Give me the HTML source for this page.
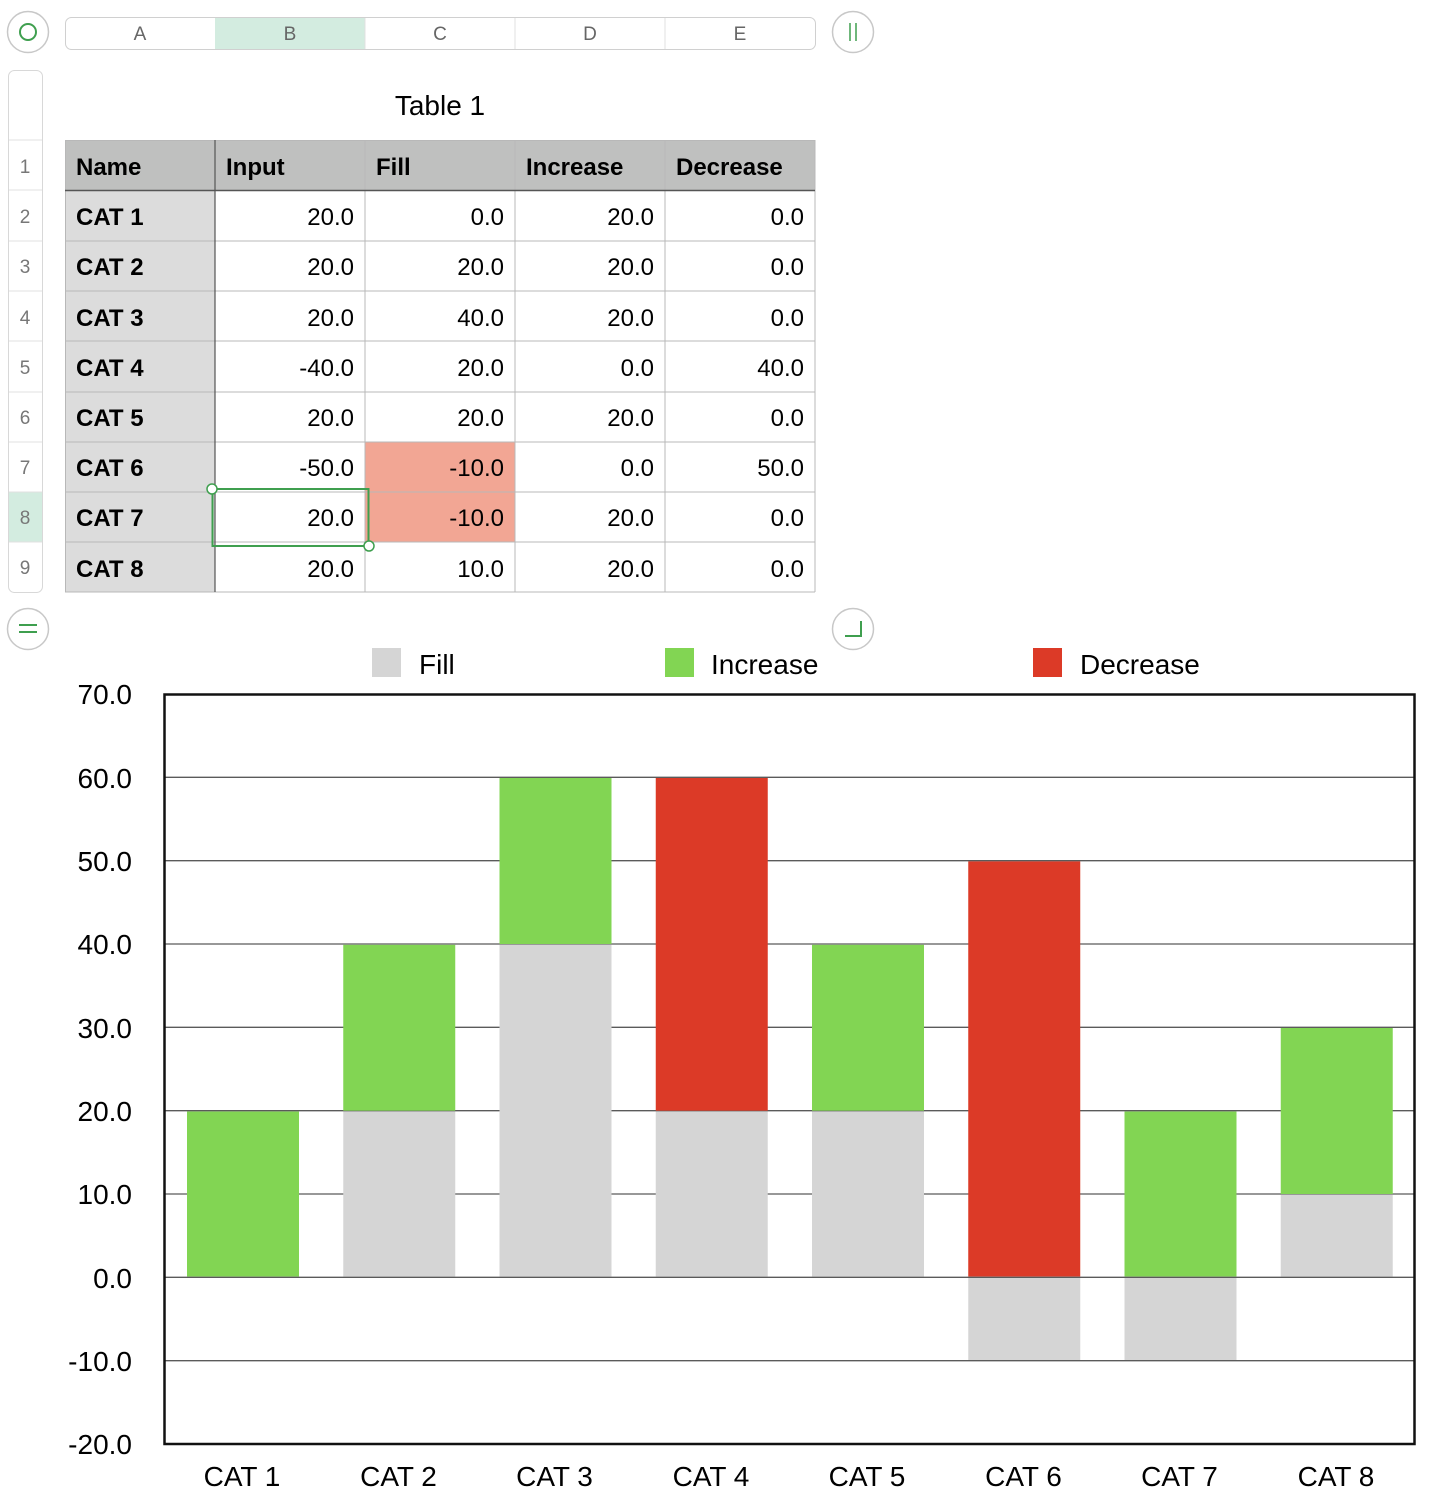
<!DOCTYPE html>
<html><head><meta charset="utf-8"><style>
html,body{margin:0;padding:0;background:#fff;}
svg{display:block;font-family:"Liberation Sans",Arial,sans-serif;}
</style></head><body>
<svg width="1432" height="1502" viewBox="0 0 1432 1502" xmlns="http://www.w3.org/2000/svg">
<!-- top controls -->
<circle cx="28" cy="32" r="20.5" fill="#fff" stroke="#c8c8c8" stroke-width="1.5"/>
<circle cx="28" cy="32" r="8" fill="none" stroke="#3f9f4f" stroke-width="2"/>
<circle cx="853" cy="32" r="20.5" fill="#fff" stroke="#c8c8c8" stroke-width="1.5"/>
<line x1="850" y1="23" x2="850" y2="41" stroke="#3f9f4f" stroke-width="1.5"/>
<line x1="856" y1="23" x2="856" y2="41" stroke="#3f9f4f" stroke-width="1.5"/>
<rect x="65.5" y="17.5" width="750" height="32" rx="6" fill="#fff" stroke="#d0d0d0"/>
<rect x="215" y="18" width="150" height="31" fill="#d3ece0"/>
<g stroke="#e0e0e0"><line x1="365" y1="18" x2="365" y2="49"/><line x1="515" y1="18" x2="515" y2="49"/><line x1="665" y1="18" x2="665" y2="49"/></g>
<g font-size="19" fill="#666" text-anchor="middle">
<text x="140" y="40">A</text><text x="290" y="40">B</text><text x="440" y="40">C</text><text x="590" y="40">D</text><text x="740" y="40">E</text></g>
<!-- row header column -->
<rect x="8.5" y="70.5" width="34" height="522" rx="6" fill="#fff" stroke="#d8d8d8"/>
<rect x="9" y="492" width="33" height="50" fill="#d3ece0"/>
<g stroke="#e0e0e0">
<line x1="9" y1="140" x2="42" y2="140"/><line x1="9" y1="190" x2="42" y2="190"/><line x1="9" y1="241" x2="42" y2="241"/><line x1="9" y1="291" x2="42" y2="291"/><line x1="9" y1="341" x2="42" y2="341"/><line x1="9" y1="392" x2="42" y2="392"/><line x1="9" y1="442" x2="42" y2="442"/><line x1="9" y1="492" x2="42" y2="492"/><line x1="9" y1="542" x2="42" y2="542"/></g>
<g font-size="19" fill="#777" text-anchor="middle">
<text x="25" y="173">1</text><text x="25" y="223">2</text><text x="25" y="273">3</text><text x="25" y="324">4</text><text x="25" y="374">5</text><text x="25" y="424">6</text><text x="25" y="474">7</text><text x="25" y="524">8</text><text x="25" y="574">9</text></g>
<circle cx="28" cy="629" r="20.5" fill="#fff" stroke="#c8c8c8" stroke-width="1.5"/>
<line x1="19" y1="625" x2="37" y2="625" stroke="#3f9f4f" stroke-width="2"/><line x1="19" y1="632" x2="37" y2="632" stroke="#3f9f4f" stroke-width="2"/>
<circle cx="853" cy="629" r="20.5" fill="#fff" stroke="#c8c8c8" stroke-width="1.5"/>
<path d="M845 636 H861 V621" fill="none" stroke="#3f9f4f" stroke-width="2"/>
<text x="440" y="115" font-size="28" text-anchor="middle" fill="#000">Table 1</text>
<!-- table -->
<rect x="65" y="140" width="750" height="50" fill="#bfc0bf"/>
<rect x="65" y="190" width="150" height="402" fill="#dcdcdc"/>
<rect x="365" y="442" width="150" height="100" fill="#f2a694"/>
<g stroke="#b8b8b8" stroke-width="1">
<line x1="65" y1="140.5" x2="815" y2="140.5"/>
<line x1="65" y1="241" x2="815" y2="241"/><line x1="65" y1="291" x2="815" y2="291"/><line x1="65" y1="341" x2="815" y2="341"/><line x1="65" y1="392" x2="815" y2="392"/><line x1="65" y1="442" x2="815" y2="442"/><line x1="65" y1="492" x2="815" y2="492"/><line x1="65" y1="542" x2="815" y2="542"/><line x1="65" y1="592" x2="815" y2="592"/>
<line x1="65.5" y1="140" x2="65.5" y2="592"/><line x1="365" y1="140" x2="365" y2="592"/><line x1="515" y1="140" x2="515" y2="592"/><line x1="665" y1="140" x2="665" y2="592"/><line x1="815" y1="140" x2="815" y2="592"/>
</g>
<line x1="65" y1="190.5" x2="815" y2="190.5" stroke="#555" stroke-width="1.5"/>
<line x1="215" y1="140" x2="215" y2="592" stroke="#555" stroke-width="1.2"/>
<g font-size="24" font-weight="bold" fill="#000">
<text x="76" y="175">Name</text><text x="226" y="175">Input</text><text x="376" y="175">Fill</text><text x="526" y="175">Increase</text><text x="676" y="175">Decrease</text>
<text x="76" y="225">CAT 1</text><text x="76" y="275">CAT 2</text><text x="76" y="326">CAT 3</text><text x="76" y="376">CAT 4</text><text x="76" y="426">CAT 5</text><text x="76" y="476">CAT 6</text><text x="76" y="526">CAT 7</text><text x="76" y="577">CAT 8</text></g>
<g font-size="24" fill="#000" text-anchor="end">
<text x="354" y="225">20.0</text><text x="504" y="225">0.0</text><text x="654" y="225">20.0</text><text x="804" y="225">0.0</text>
<text x="354" y="275">20.0</text><text x="504" y="275">20.0</text><text x="654" y="275">20.0</text><text x="804" y="275">0.0</text>
<text x="354" y="326">20.0</text><text x="504" y="326">40.0</text><text x="654" y="326">20.0</text><text x="804" y="326">0.0</text>
<text x="354" y="376">-40.0</text><text x="504" y="376">20.0</text><text x="654" y="376">0.0</text><text x="804" y="376">40.0</text>
<text x="354" y="426">20.0</text><text x="504" y="426">20.0</text><text x="654" y="426">20.0</text><text x="804" y="426">0.0</text>
<text x="354" y="476">-50.0</text><text x="504" y="476">-10.0</text><text x="654" y="476">0.0</text><text x="804" y="476">50.0</text>
<text x="354" y="526">20.0</text><text x="504" y="526">-10.0</text><text x="654" y="526">20.0</text><text x="804" y="526">0.0</text>
<text x="354" y="577">20.0</text><text x="504" y="577">10.0</text><text x="654" y="577">20.0</text><text x="804" y="577">0.0</text></g>
<rect x="212.5" y="489" width="156" height="57" fill="none" stroke="#3f9f4f" stroke-width="2"/>
<circle cx="212" cy="489" r="5" fill="#fff" stroke="#3f9f4f" stroke-width="1.5"/>
<circle cx="369" cy="546" r="5" fill="#fff" stroke="#3f9f4f" stroke-width="1.5"/>
<!-- legend -->
<rect x="372" y="648" width="29" height="29" fill="#d5d5d5"/>
<text x="419" y="674" font-size="28">Fill</text>
<rect x="665" y="648" width="29" height="29" fill="#82d553"/>
<text x="711" y="674" font-size="28">Increase</text>
<rect x="1033" y="648" width="29" height="29" fill="#dc3a27"/>
<text x="1080" y="674" font-size="28">Decrease</text>
<!-- grid -->
<g stroke="#5a5a5a" stroke-width="1.3">
<line x1="164" y1="777.3" x2="1414" y2="777.3"/><line x1="164" y1="860.7" x2="1414" y2="860.7"/><line x1="164" y1="944" x2="1414" y2="944"/><line x1="164" y1="1027.3" x2="1414" y2="1027.3"/><line x1="164" y1="1110.7" x2="1414" y2="1110.7"/><line x1="164" y1="1194" x2="1414" y2="1194"/><line x1="164" y1="1277.3" x2="1414" y2="1277.3"/><line x1="164" y1="1360.7" x2="1414" y2="1360.7"/></g>
<!-- bars -->
<g>
<!-- cat1 -->
<rect x="187" y="1111.5" width="112" height="165" fill="#82d553"/>
<!-- cat2 -->
<rect x="343.25" y="1111.5" width="112" height="165" fill="#d5d5d5"/>
<rect x="343.25" y="944.8" width="112" height="165.9" fill="#82d553"/>
<!-- cat3 -->
<rect x="499.5" y="944.8" width="112" height="331.7" fill="#d5d5d5"/>
<rect x="499.5" y="778" width="112" height="166" fill="#82d553"/>
<!-- cat4 -->
<rect x="655.75" y="1111.5" width="112" height="165" fill="#d5d5d5"/>
<rect x="655.75" y="778" width="112" height="332.7" fill="#dc3a27"/>
<!-- cat5 -->
<rect x="812" y="1111.5" width="112" height="165" fill="#d5d5d5"/>
<rect x="812" y="944.8" width="112" height="165.9" fill="#82d553"/>
<!-- cat6 -->
<rect x="968.25" y="861.4" width="112" height="415.1" fill="#dc3a27"/>
<rect x="968.25" y="1278" width="112" height="82" fill="#d5d5d5"/>
<!-- cat7 -->
<rect x="1124.5" y="1111.5" width="112" height="165" fill="#82d553"/>
<rect x="1124.5" y="1278" width="112" height="82" fill="#d5d5d5"/>
<!-- cat8 -->
<rect x="1280.75" y="1194.7" width="112" height="81.8" fill="#d5d5d5"/>
<rect x="1280.75" y="1028" width="112" height="166" fill="#82d553"/>
</g>
<rect x="164.5" y="694.5" width="1250" height="749.5" fill="none" stroke="#111" stroke-width="2.5"/>
<!-- y labels -->
<g font-size="28" text-anchor="end" fill="#000">
<text x="132" y="704">70.0</text><text x="132" y="788">60.0</text><text x="132" y="871">50.0</text><text x="132" y="954">40.0</text><text x="132" y="1038">30.0</text><text x="132" y="1121">20.0</text><text x="132" y="1204">10.0</text><text x="132" y="1288">0.0</text><text x="132" y="1371">-10.0</text><text x="132" y="1454">-20.0</text></g>
<g font-size="28" text-anchor="middle" fill="#000">
<text x="242" y="1486">CAT 1</text><text x="398.5" y="1486">CAT 2</text><text x="554.5" y="1486">CAT 3</text><text x="711" y="1486">CAT 4</text><text x="867" y="1486">CAT 5</text><text x="1023.5" y="1486">CAT 6</text><text x="1179.5" y="1486">CAT 7</text><text x="1336" y="1486">CAT 8</text></g>
</svg>
</body></html>
